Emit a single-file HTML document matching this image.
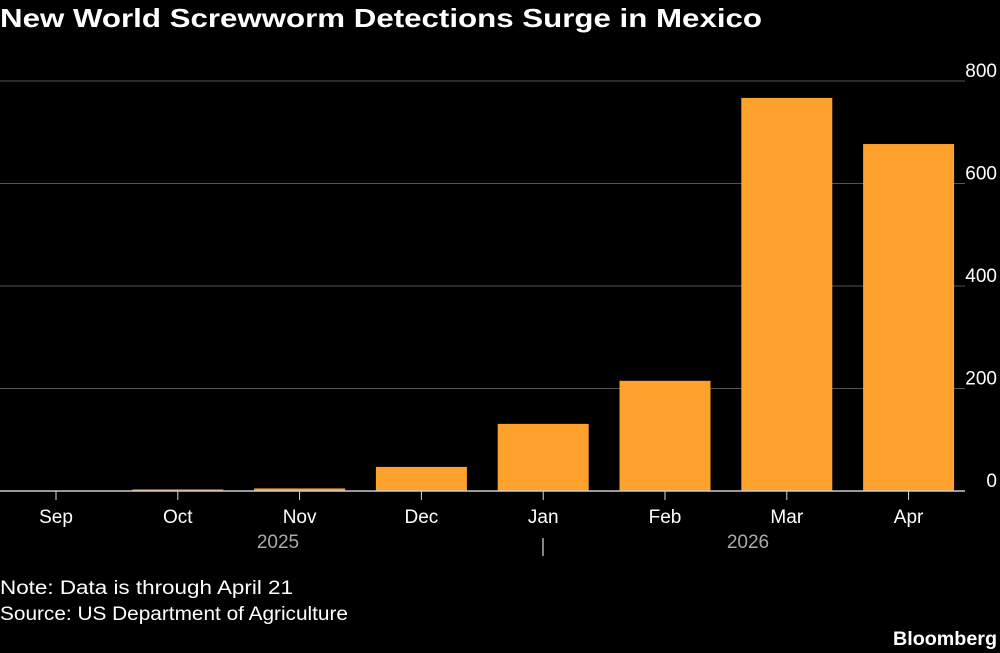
<!DOCTYPE html>
<html><head><meta charset="utf-8"><style>
body{margin:0;background:#000;width:1000px;height:653px;overflow:hidden;font-family:"Liberation Sans",sans-serif}
</style></head><body>
<svg width="1000" height="653" style="position:absolute;left:0;top:0">
<text x="0" y="27" fill="#fff" font-size="26" font-weight="bold" textLength="762" lengthAdjust="spacingAndGlyphs">New World Screwworm Detections Surge in Mexico</text>
<g id="grid"></g><g id="bars"></g><g id="xaxis"></g>
<text x="278" y="548" fill="#aaa" font-size="19" text-anchor="middle">2025</text>
<text x="543" y="552" fill="#aaa" font-size="19" text-anchor="middle">|</text>
<text x="748" y="548" fill="#aaa" font-size="19" text-anchor="middle">2026</text>
<text x="0" y="594" fill="#fff" font-size="19" textLength="293" lengthAdjust="spacingAndGlyphs">Note: Data is through April 21</text>
<text x="0" y="620" fill="#fff" font-size="19" textLength="348" lengthAdjust="spacingAndGlyphs">Source: US Department of Agriculture</text>
<text x="997" y="645" fill="#fff" font-size="19" font-weight="bold" text-anchor="end" textLength="104" lengthAdjust="spacingAndGlyphs">Bloomberg</text>
</svg>
<script>
const categories=["Sep","Oct","Nov","Dec","Jan","Feb","Mar","Apr"];
const values=[1,3,5,47,131,215,767,677];
const ticks=[0,200,400,600,800];
const NS="http://www.w3.org/2000/svg";
function y(v){return 491-v*(410/800);}
function xc(i){return 56+i*121.8;}
function mk(t,a,p){const e=document.createElementNS(NS,t);for(const k in a)e.setAttribute(k,a[k]);p.appendChild(e);return e;}
const g=document.getElementById('grid'),b=document.getElementById('bars'),xa=document.getElementById('xaxis');
ticks.forEach(t=>{
 if(t>0){const l=mk('line',{x1:0,x2:965,y1:y(t),y2:y(t),stroke:'#555','stroke-width':1},g);
 
 }
 const tx=mk('text',{x:997,y:y(t)-4,fill:'#fff','font-size':19,'text-anchor':'end'},g);tx.textContent=t;
 
 
});
values.forEach((v,i)=>{
 const r=mk('rect',{x:xc(i)-45.5,width:91,y:y(v),height:491-y(v),fill:'#ffa22d'},b);
 
 
 const tk=mk('line',{x1:xc(i),x2:xc(i),y1:491,y2:500,stroke:'#ddd','stroke-width':1},xa);
 
 
 const t=mk('text',{x:xc(i),y:523,fill:'#fff','font-size':19,'text-anchor':'middle'},xa);t.textContent=categories[i];
 
 
});
const ax=mk('line',{x1:0,x2:965,y1:491,y2:491,stroke:'#ccc','stroke-width':1.5},xa);


</script>
</body></html>
